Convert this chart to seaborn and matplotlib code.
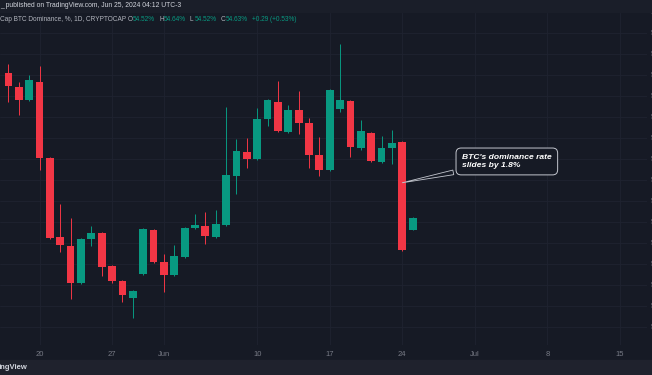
import numpy as np
import pandas as pd
import matplotlib
matplotlib.use("Agg")
import matplotlib.pyplot as plt
import matplotlib.dates as mdates
import seaborn as sns

# daily candles, BTC dominance (%), 17 May - 25 Jun 2024
dates = pd.date_range("2024-05-17", "2024-06-25", freq="D")
opens = [56.02, 55.88, 55.76, 55.93, 55.21, 54.45, 54.37, 54.02, 54.43, 54.49,
         54.18, 54.03, 53.87, 54.10, 54.52, 54.22, 54.09, 54.26, 54.54, 54.56,
         54.45, 54.57, 55.03, 55.26, 55.20, 55.58, 55.74, 55.45, 55.66, 55.54,
         55.23, 55.09, 55.67, 55.75, 55.30, 55.44, 55.17, 55.30, 55.36, 54.52]
highs = [56.10, 55.93, 56.00, 56.08, 55.22, 54.77, 54.63, 54.44, 54.56, 54.50,
         54.19, 54.04, 53.95, 54.54, 54.53, 54.29, 54.38, 54.55, 54.67, 54.69,
         54.71, 55.69, 55.39, 55.40, 55.68, 55.77, 55.94, 55.71, 55.84, 55.59,
         55.41, 55.86, 56.29, 55.76, 55.57, 55.45, 55.42, 55.47, 55.37, 54.64]
lows = [55.74, 55.62, 55.75, 55.09, 54.43, 54.31, 53.86, 54.01, 54.37, 54.08,
        54.02, 53.83, 53.68, 54.09, 54.21, 53.93, 54.08, 54.25, 54.53, 54.39,
        54.44, 54.56, 54.86, 55.11, 55.19, 55.51, 55.45, 55.44, 55.43, 55.11,
        55.03, 55.08, 55.64, 55.22, 55.28, 55.17, 55.16, 55.15, 54.32, 54.52]
closes = [55.89, 55.76, 55.95, 55.21, 54.44, 54.38, 54.02, 54.43, 54.49, 54.17,
          54.03, 53.90, 53.94, 54.53, 54.22, 54.09, 54.27, 54.54, 54.57, 54.46,
          54.58, 55.04, 55.27, 55.20, 55.58, 55.76, 55.46, 55.66, 55.54, 55.23,
          55.09, 55.85, 55.76, 55.31, 55.46, 55.18, 55.30, 55.35, 54.33, 54.63]

tick_dates = ["2024-05-20", "2024-05-27", "2024-06-01", "2024-06-10", "2024-06-17",
              "2024-06-24", "2024-07-01", "2024-07-08", "2024-07-15"]
tick_labels = ["20", "27", "Jun", "10", "17", "24", "Jul", "8", "15"]

header_top = "_ published on TradingView.com, Jun 25, 2024 04:12 UTC-3"
header_name = "Cap BTC Dominance, %, 1D, CRYPTOCAP"
ohlc_keys = ["O", "H", "L", "C"]
ohlc_vals = ["54.52%", "54.64%", "54.52%", "54.63%"]
change_txt = "+0.29 (+0.53%)"
note = "BTC's dominance rate\nslides by 1.8%"

BG = "#161a25"
UP = "#089981"
DOWN = "#f23645"
GRID = "#1f2330"
TXT = "#b2b5be"

sns.set_theme(style="darkgrid", rc={
    "axes.facecolor": BG, "figure.facecolor": BG, "grid.color": GRID,
    "grid.linewidth": 0.6, "axes.edgecolor": BG,
})
plt.rcParams["font.family"] = ["Liberation Sans", "DejaVu Sans"]

df = pd.DataFrame({"date": dates, "open": opens, "high": highs,
                   "low": lows, "close": closes})
df["up"] = df["close"] >= df["open"]
df["color"] = np.where(df["up"], UP, DOWN)
df["bottom"] = df[["open", "close"]].min(axis=1)
df["height"] = (df["close"] - df["open"]).abs().clip(lower=0.01)

fig = plt.figure(figsize=(6.52, 3.75), dpi=100)
ax = fig.add_axes([0, 30 / 375, 647 / 652, 345 / 375])

ax.vlines(df["date"], df["low"], df["high"], colors=df["color"], lw=0.7, zorder=2)
ax.bar(df["date"], df["height"], bottom=df["bottom"], width=0.75,
       color=df["color"], linewidth=0, zorder=3)

x0 = mdates.date2num(pd.Timestamp("2024-05-20"))
ax.set_xlim(x0 - 39.5 / 10.366, x0 + (647 - 39.5) / 10.366)
ax.set_ylim(54.52 - 115 * 0.2 / 21, 54.52 + 230 * 0.2 / 21)

ax.set_xticks(pd.to_datetime(tick_dates))
ax.set_xticklabels(tick_labels)
ax.set_yticks(np.arange(53.6, 56.61, 0.2))
ax.yaxis.tick_right()
ax.yaxis.set_major_formatter(matplotlib.ticker.FormatStrFormatter("%.2f"))
ax.tick_params(axis="both", length=0, colors="#787b86", labelsize=5.5)
ax.tick_params(axis="x", pad=4)
ax.tick_params(axis="y", pad=3)
for s in ax.spines.values():
    s.set_visible(False)
ax.grid(True)

ax.annotate(note, xy=(pd.Timestamp("2024-06-24"), 54.97),
            xytext=(0.714, 0.532), textcoords="axes fraction",
            ha="left", va="center", color="white", fontsize=6.1,
            fontweight="bold", fontstyle="italic", linespacing=1.2,
            bbox=dict(boxstyle="round,pad=0.7,rounding_size=0.6", fc=BG,
                      ec="#c3c6ce", lw=0.7),
            arrowprops=dict(arrowstyle="wedge,tail_width=0.55", fc=BG,
                            ec="#c3c6ce", lw=0.6, shrinkB=0),
            zorder=5)

# top header strip and footer strip
fig.patches.append(plt.Rectangle((0, 1 - 12 / 375), 1, 12 / 375,
                                 transform=fig.transFigure, color="#1a1e29", zorder=0))
fig.patches.append(plt.Rectangle((0, 0), 1, 15 / 375,
                                 transform=fig.transFigure, color="#1f222d", zorder=0))

fig.text(0, 1 - 5.5 / 375, header_top, color="#d1d4dc", fontsize=4.9, va="center")
yh = 1 - 19.5 / 375
fig.text(0, yh, header_name, color=TXT, fontsize=4.7, va="center")
xs_key = [128, 159, 190, 221]
for k, v, xk in zip(ohlc_keys, ohlc_vals, xs_key):
    fig.text(xk / 652, yh, k, color=TXT, fontsize=4.7, va="center")
    fig.text((xk + 4.5) / 652, yh, v, color=UP, fontsize=4.7, va="center")
fig.text(252 / 652, yh, change_txt, color=UP, fontsize=4.7, va="center")
fig.text(-1.5 / 652, 7.5 / 375, "ingView", color="#d1d4dc", fontsize=5.5,
         fontweight="bold", va="center")

fig.savefig("out.png", dpi=100, facecolor=BG)
